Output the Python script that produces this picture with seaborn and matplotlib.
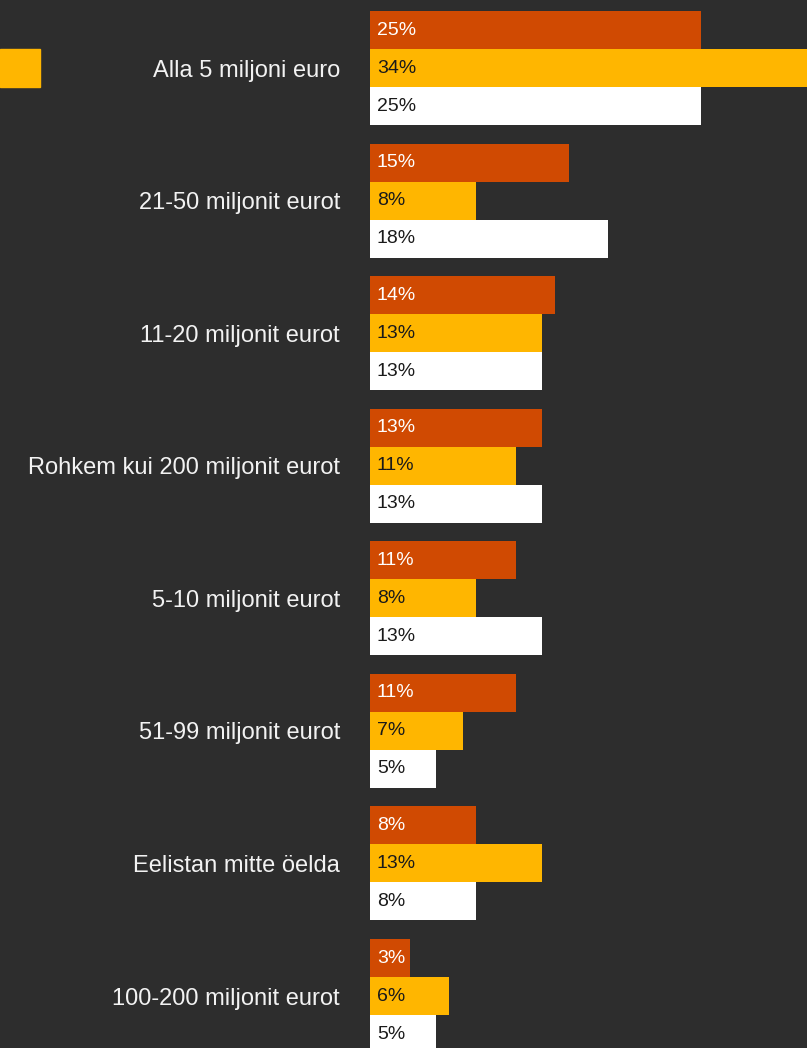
import pandas as pd
import matplotlib
matplotlib.use("Agg")
import matplotlib.pyplot as plt
import seaborn as sns
from matplotlib.patches import Rectangle

# data
categories = ["Alla 5 miljoni euro", "21-50 miljonit eurot", "11-20 miljonit eurot",
              "Rohkem kui 200 miljonit eurot", "5-10 miljonit eurot", "51-99 miljonit eurot",
              "Eelistan mitte öelda", "100-200 miljonit eurot"]
series_names = ["Seeria 1", "Seeria 2", "Seeria 3"]
orange_vals = [25, 15, 14, 13, 11, 11, 8, 3]
yellow_vals = [34, 8, 13, 11, 8, 7, 13, 6]
white_vals = [25, 18, 13, 13, 13, 5, 8, 5]

colors = ["#d04a02", "#ffb600", "#ffffff"]
text_colors = ["#ffffff", "#1a1a1a", "#1a1a1a"]
bg = "#2d2d2d"

df = pd.DataFrame({
    "category": categories * 3,
    "series": [series_names[0]] * 8 + [series_names[1]] * 8 + [series_names[2]] * 8,
    "value": orange_vals + yellow_vals + white_vals,
})

sns.set_theme(style="dark")
plt.rcParams["font.family"] = ["Liberation Sans", "DejaVu Sans"]

fig = plt.figure(figsize=(8.07, 10.48), dpi=100, facecolor=bg)
ax = fig.add_axes([370 / 807, 0, 437 / 807, 1])
ax.set_facecolor(bg)

sns.barplot(data=df, y="category", x="value", hue="series", order=categories,
            hue_order=series_names, palette=colors, width=0.86, saturation=1,
            orient="h", legend=False, ax=ax, linewidth=0)

ax.set_xlim(0, 437 / 13.24)
ax.set_ylim(7.392, -0.513)

# value labels at the start of every bar
for cont, tc in zip(ax.containers, text_colors):
    for bar in cont:
        v = bar.get_width()
        ax.annotate(f"{v:.0f}%", xy=(0, bar.get_y() + bar.get_height() / 2),
                    xytext=(5, 0), textcoords="offset points",
                    ha="left", va="center", color=tc, fontsize=14)

ax.set_xlabel("")
ax.set_ylabel("")
ax.set_xticks([])
ax.tick_params(axis="y", length=0, pad=21.6, labelsize=17, labelcolor="#f2f2f2")
for s in ax.spines.values():
    s.set_visible(False)
ax.grid(False)

# cut-off legend swatch on the left edge
fig.patches.append(Rectangle((0, 1 - 87 / 1048), 40 / 807, 38 / 1048,
                             transform=fig.transFigure, color=colors[1]))

fig.savefig("out.png", dpi=100, facecolor=bg)
